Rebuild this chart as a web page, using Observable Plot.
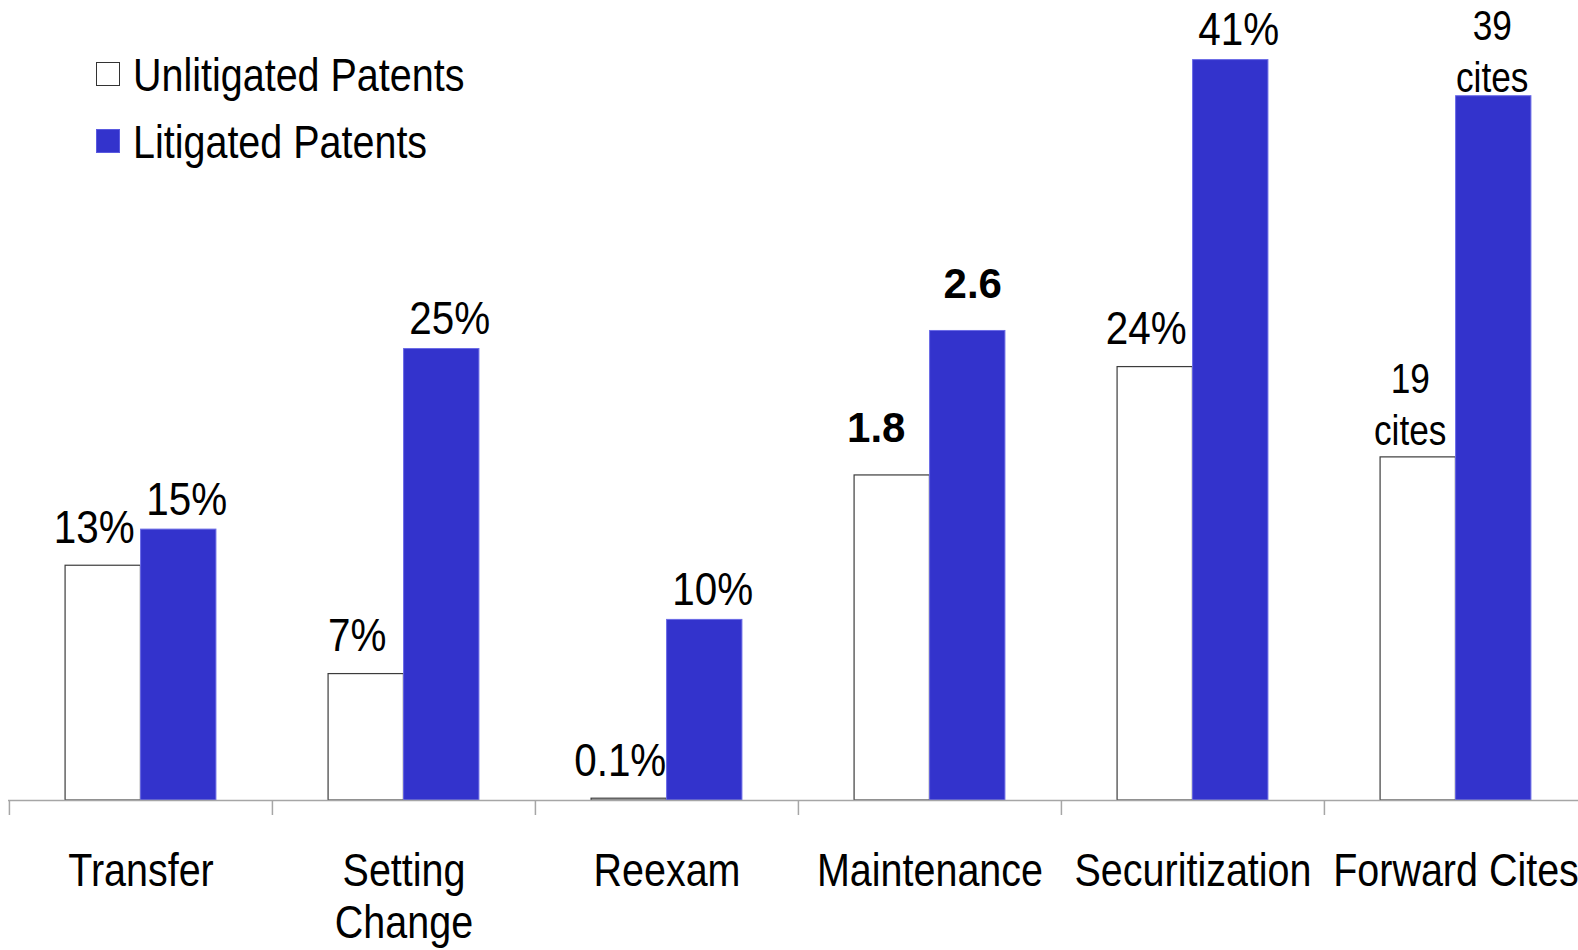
<!DOCTYPE html>
<html>
<head>
<meta charset="utf-8">
<script src="https://cdn.jsdelivr.net/npm/d3@7"></script>
<script src="https://cdn.jsdelivr.net/npm/@observablehq/plot@0.6"></script>
<style>
  html, body { margin: 0; padding: 0; background: #fff; overflow: hidden; }
  #wrap { position: relative; width: 1578px; height: 950px; }
  .legend-row { position: absolute; left: 96px; height: 60px; }
  .swatch { position: absolute; left: 0; width: 24px; height: 24px; box-sizing: border-box; }
  .legend-text { position: absolute; left: 37px; top: 0; font-family: "Liberation Sans", Arial, sans-serif;
    font-size: 47px; line-height: 47px; white-space: nowrap; color: #000;
    transform: scaleX(0.84); transform-origin: 0 0; }
</style>
</head>
<body>
<div id="wrap">
  <div id="chart"></div>
  <div id="legend"></div>
</div>
<script>
// ---- data ----
const categories = ["Transfer", "Setting Change", "Reexam", "Maintenance", "Securitization", "Forward Cites"];
const tickLabels = ["Transfer", "Setting\nChange", "Reexam", "Maintenance", "Securitization", "Forward Cites"];
const seriesNames = ["Unlitigated Patents", "Litigated Patents"];
// bar heights on the chart's shared scale (Maintenance shown in tenths)
const unlitigated = [13, 7, 0.1, 18, 24, 19];
const litigated   = [15, 25, 10, 26, 41, 39];
const unlitigatedLabels = ["13%", "7%", "0.1%", "1.8", "24%", "19\ncites"];
const litigatedLabels   = ["15%", "25%", "10%", "2.6", "41%", "39\ncites"];

// ---- build table ----
const rows = [];
categories.forEach((c, i) => {
  rows.push({category: c, series: seriesNames[0], value: unlitigated[i], label: unlitigatedLabels[i]});
  rows.push({category: c, series: seriesNames[1], value: litigated[i], label: litigatedLabels[i]});
});
const isUn = d => d.series === seriesNames[0];
const isLit = d => d.series === seriesNames[1];
const isBold = d => d.category === "Maintenance";
const isCites = d => /cites/.test(d.label);
const isPlain = d => !isBold(d) && !isCites(d);

// ---- layout ----
const W = 1578, H = 950;
const ML = 8, MR = -9, MT = 0, MB = 150;
const step = (W - ML - MR) / categories.length;
const barW = 75.5;
const gap = (step - 2 * barW) / 2;
const half = barW / 2;

const SANS = "'Liberation Sans', Arial, sans-serif";
const BLUE = "#3333cc";

const chart = Plot.plot({
  width: W,
  height: H,
  marginLeft: ML,
  marginRight: MR,
  marginTop: MT,
  marginBottom: MB,
  style: {fontFamily: SANS, background: "white", color: "black", overflow: "visible"},
  x: {type: "band", domain: categories, padding: 0, label: null},
  y: {domain: [0, 44.3], axis: null},
  marks: [
    Plot.barY(rows.filter(isUn), {x: "category", y: "value", fill: "white", stroke: "#3c3c3c", strokeWidth: 1.2,
      insetLeft: gap, insetRight: step - gap - barW}),
    Plot.barY(rows.filter(isLit), {x: "category", y: "value", fill: BLUE, stroke: "#6a6ae6", strokeWidth: 1,
      insetLeft: gap + barW, insetRight: gap}),
    Plot.ruleY([0], {stroke: "#a6a6a6", strokeWidth: 1.5}),
    Plot.ruleX(categories, {x: d => d, y1: 0, y2: 0, dx: -step / 2, insetBottom: -15, stroke: "#a6a6a6", strokeWidth: 1.5}),
    // plain percentage labels
    Plot.text(rows.filter(d => isUn(d) && isPlain(d)), {x: "category", y: "value", text: "label",
      dx: -half - 9, dy: -23, lineAnchor: "bottom", fontSize: 47}),
    Plot.text(rows.filter(d => isLit(d) && isPlain(d)), {x: "category", y: "value", text: "label",
      dx: half + 8, dy: -15, lineAnchor: "bottom", fontSize: 47}),
    // bold maintenance labels
    Plot.text(rows.filter(d => isUn(d) && isBold(d)), {x: "category", y: "value", text: "label",
      dx: -half - 16, dy: -33, lineAnchor: "bottom", fontSize: 42, fontWeight: "bold"}),
    Plot.text(rows.filter(d => isLit(d) && isBold(d)), {x: "category", y: "value", text: "label",
      dx: half + 5, dy: -33, lineAnchor: "bottom", fontSize: 42, fontWeight: "bold"}),
    // cites labels
    Plot.text(rows.filter(d => isUn(d) && isCites(d)), {x: "category", y: "value", text: "label",
      dx: -half - 8, dy: -12, lineAnchor: "bottom", lineHeight: 1.24, fontSize: 42}),
    Plot.text(rows.filter(d => isLit(d) && isCites(d)), {x: "category", y: "value", text: "label",
      dx: half - 1.5, dy: -4, lineAnchor: "bottom", lineHeight: 1.24, fontSize: 42}),
    Plot.axisX({tickSize: 0, tickPadding: 48, fontSize: 47, lineHeight: 1.11, label: null,
      tickFormat: d => tickLabels[categories.indexOf(d)]})
  ]
});

// condense the non-bold text horizontally (narrow Arial look)
chart.querySelectorAll("text").forEach(t => {
  let bold = false;
  for (let n = t; n && n !== chart; n = n.parentNode) {
    if (n.getAttribute && n.getAttribute("font-weight") === "bold") { bold = true; break; }
  }
  if (bold) return;
  const s = /%/.test(t.textContent) ? 0.86 : 0.84;
  const tr = t.getAttribute("transform");
  if (tr) {
    t.setAttribute("transform", tr + ` scale(${s},1)`);
  } else {
    const x = +(t.getAttribute("x") || 0);
    t.setAttribute("transform", `translate(${x},0) scale(${s},1) translate(${-x},0)`);
  }
});
document.getElementById("chart").appendChild(chart);

// ---- legend (HTML, overlaid top-left) ----
const legend = document.getElementById("legend");
const legendColors = [{fill: "#fff", border: "1.5px solid #333"}, {fill: BLUE, border: "1px solid #5a5ae0"}];
const legendTops = [51, 118];
seriesNames.forEach((name, i) => {
  const row = document.createElement("div");
  row.className = "legend-row";
  row.style.top = legendTops[i] + "px";
  const sw = document.createElement("div");
  sw.className = "swatch";
  sw.style.top = "11px";
  sw.style.background = legendColors[i].fill;
  sw.style.border = legendColors[i].border;
  const tx = document.createElement("div");
  tx.className = "legend-text";
  tx.textContent = name;
  row.appendChild(sw);
  row.appendChild(tx);
  legend.appendChild(row);
});
</script>
</body>
</html>
